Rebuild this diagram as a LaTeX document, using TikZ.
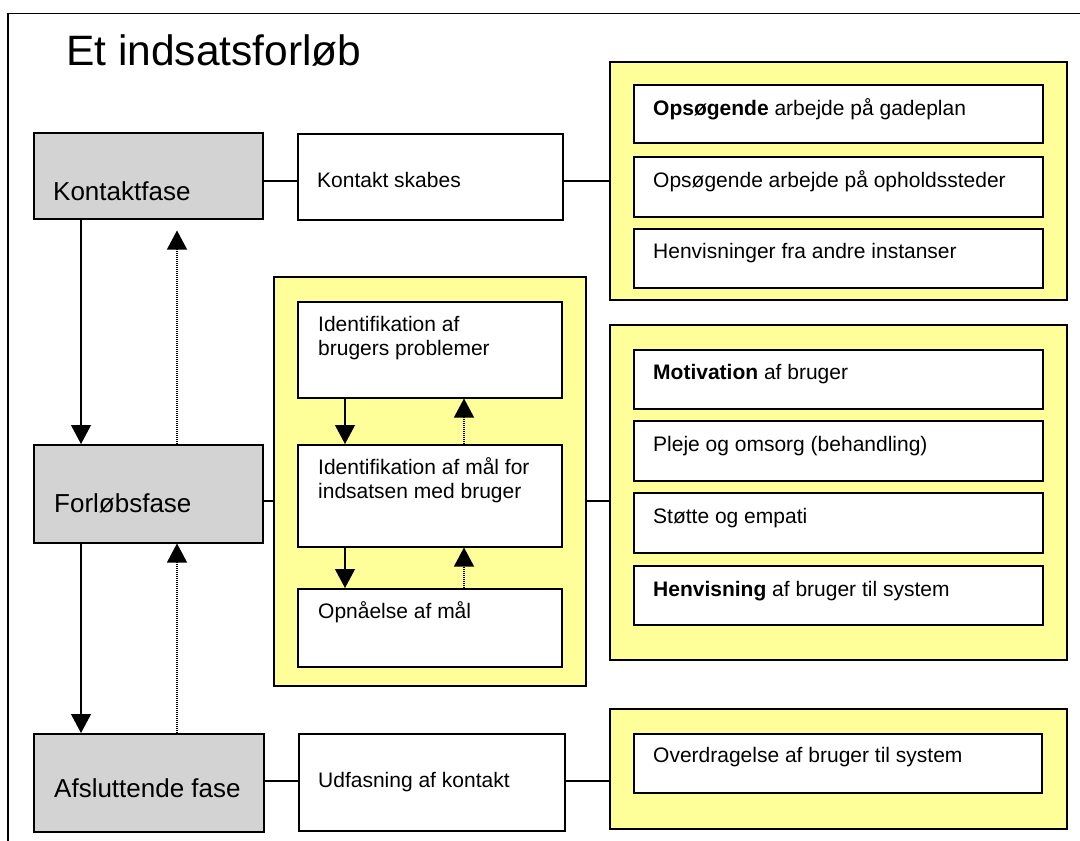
\documentclass[tikz,border=0pt]{standalone}
\usepackage{fontspec}
\setmainfont{Liberation Sans}
\usepackage{xcolor}
\definecolor{panelyellow}{HTML}{FFFF99}
\definecolor{phasegray}{HTML}{D3D3D3}
\usepackage{tikz}
\usetikzlibrary{arrows.meta,positioning,calc}

\begin{document}
\begin{tikzpicture}[x=1pt,y=-1pt,
  frame/.style={line width=1.5pt},
  phase/.style={rectangle,draw,line width=1.5pt,fill=phasegray,anchor=north west,inner sep=0pt},
  infobox/.style={rectangle,draw,line width=1.5pt,fill=white,anchor=north west,inner sep=0pt},
  panel/.style={rectangle,draw,line width=1.5pt,fill=panelyellow,anchor=north west,inner sep=0pt},
  txt/.style={anchor=base west,inner sep=0pt,font=\fontsize{21}{24}\selectfont},
  phasetxt/.style={anchor=base west,inner sep=0pt,font=\fontsize{26}{30}\selectfont},
  link/.style={line width=1.1pt},
  flow/.style={-{Triangle[length=19pt,width=20pt]},line width=1.1pt},
  back/.style={-{Triangle[length=19pt,width=20pt]},line width=1.1pt,dash pattern=on 1pt off 1pt}]
  \useasboundingbox (0,0) rectangle (1080,841);
  % frame and title
  \draw[frame] (8,841) -- (8,13.5) -- (1080,13.5);
  \node[anchor=base west,inner sep=0pt,font=\fontsize{42.5}{48}\selectfont] (title) at (66,65) {Et indsatsforløb};

  % yellow panels
  \node[panel,minimum width=457pt,minimum height=238pt] (pa) at (609,61) {};
  \node[panel,minimum width=312pt,minimum height=409pt] (pb) at (273,276) {};
  \node[panel,minimum width=457pt,minimum height=335pt] (pc) at (609,324) {};
  \node[panel,minimum width=457pt,minimum height=120pt] (pd) at (609,708) {};

  % phases
  \node[phase,minimum width=229pt,minimum height=86pt] (kontakt) at (33,132) {};
  \node[phase,minimum width=229pt,minimum height=98pt] (forlob) at (33,444) {};
  \node[phase,minimum width=230pt,minimum height=98pt] (afslut) at (33,733) {};
  \node[phasetxt] (kontakt-t) at (53,200) {Kontaktfase};
  \node[phasetxt] (forlob-t) at (54,512) {Forløbsfase};
  \node[phasetxt] (afslut-t) at (54,797) {Afsluttende fase};

  % second column
  \node[infobox,minimum width=265pt,minimum height=86pt] (skabes) at (297,133) {};
  \node[infobox,minimum width=266pt,minimum height=97pt] (udfas) at (298,733) {};
  \node[txt] (skabes-t) at ([shift={(20,54)}]skabes.north west) {Kontakt skabes};
  \node[txt] (udfas-t) at ([shift={(20,54)}]udfas.north west) {Udfasning af kontakt};

  \node[infobox,minimum width=264pt,minimum height=96pt] (b1) at (297,301) {};
  \node[infobox,minimum width=264pt,minimum height=102pt] (b2) at (297,444) {};
  \node[infobox,minimum width=264pt,minimum height=78pt] (b3) at (297,588) {};
  \node[txt] (b1-t) at ([shift={(21,30)}]b1.north west) {\parbox[t]{230pt}{Identifikation af\\brugers problemer}};
  \node[txt] (b2-t) at ([shift={(21,30)}]b2.north west) {\parbox[t]{230pt}{Identifikation af mål for\\indsatsen med bruger}};
  \node[txt] (b3-t) at ([shift={(21,30)}]b3.north west) {Opnåelse af mål};

  % right column
  \node[infobox,minimum width=409pt,minimum height=58pt] (a1) at (633,84) {};
  \node[infobox,minimum width=409pt,minimum height=60pt] (a2) at (633,156) {};
  \node[infobox,minimum width=409pt,minimum height=59pt] (a3) at (633,228) {};
  \node[txt] (a1-t) at ([shift={(20,31)}]a1.north west) {\textbf{Opsøgende} arbejde på gadeplan};
  \node[txt] (a2-t) at ([shift={(20,31)}]a2.north west) {Opsøgende arbejde på opholdssteder};
  \node[txt] (a3-t) at ([shift={(20,30)}]a3.north west) {Henvisninger fra andre instanser};

  \node[infobox,minimum width=409pt,minimum height=59pt] (c1) at (633,349) {};
  \node[infobox,minimum width=409pt,minimum height=60pt] (c2) at (633,420) {};
  \node[infobox,minimum width=409pt,minimum height=60pt] (c3) at (633,492) {};
  \node[infobox,minimum width=409pt,minimum height=59pt] (c4) at (633,565) {};
  \node[txt] (c1-t) at ([shift={(20,30)}]c1.north west) {\textbf{Motivation} af bruger};
  \node[txt] (c2-t) at ([shift={(20,31)}]c2.north west) {Pleje og omsorg (behandling)};
  \node[txt] (c3-t) at ([shift={(20,31)}]c3.north west) {Støtte og empati};
  \node[txt] (c4-t) at ([shift={(20,31)}]c4.north west) {\textbf{Henvisning} af bruger til system};

  \node[infobox,minimum width=408pt,minimum height=59pt] (d1) at (633,733) {};
  \node[txt] (d1-t) at ([shift={(20,29)}]d1.north west) {Overdragelse af bruger til system};

  % connectors
  \draw[link] (kontakt.east|-0,181) -- (skabes.west|-0,181);
  \draw[link] (skabes.east|-0,181) -- (pa.west|-0,181);
  \draw[link] (forlob.east|-0,501) -- (pb.west|-0,501);
  \draw[link] (pb.east|-0,501) -- (pc.west|-0,501);
  \draw[link] (afslut.east|-0,781) -- (udfas.west|-0,781);
  \draw[link] (udfas.east|-0,781) -- (pd.west|-0,781);

  % phase flow
  \draw[flow] (kontakt.south-|81,0) -- (forlob.north-|81,0);
  \draw[back,shorten >=11pt] (forlob.north-|177,0) -- (kontakt.south-|177,0);
  \draw[flow] (forlob.south-|81,0) -- (afslut.north-|81,0);
  \draw[back] (afslut.north-|177,0) -- (forlob.south-|177,0);

  % steps flow
  \draw[flow] (b1.south-|345,0) -- (b2.north-|345,0);
  \draw[back] (b2.north-|464,0) -- (b1.south-|464,0);
  \draw[flow] (b2.south-|345,0) -- (b3.north-|345,0);
  \draw[back] (b3.north-|464,0) -- (b2.south-|464,0);
\end{tikzpicture}
\end{document}
